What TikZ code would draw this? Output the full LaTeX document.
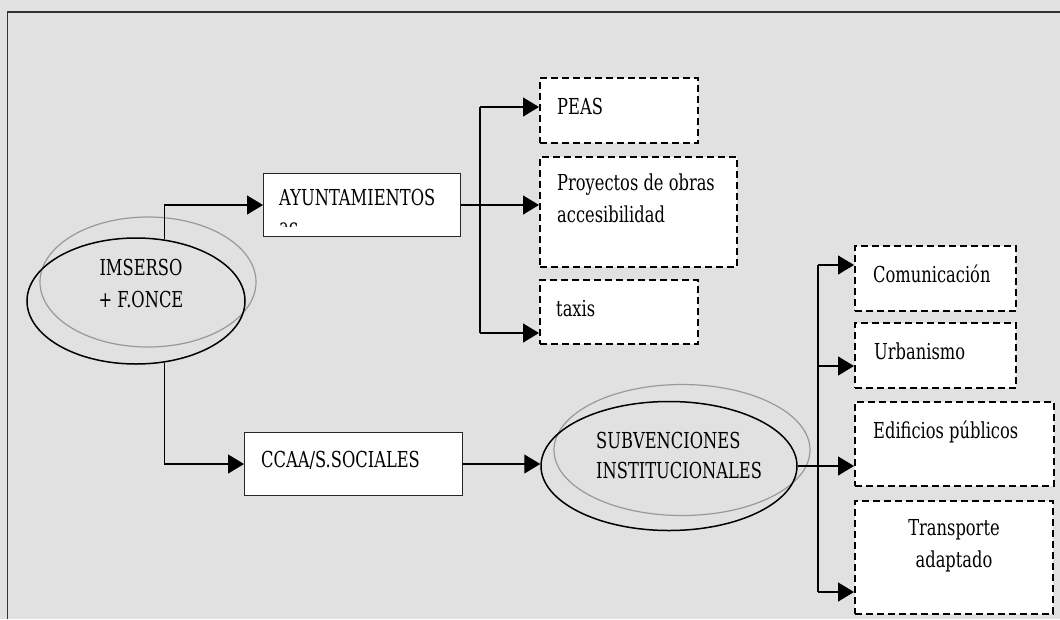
\documentclass[tikz,border=0pt]{standalone}
\usepackage{fontspec}
\setmainfont{DejaVu Serif}[FakeStretch=0.74]
\usetikzlibrary{arrows.meta,shapes.geometric}
\definecolor{bg}{HTML}{E1E1E1}
\definecolor{frame}{HTML}{333333}
\tikzset{
  sbox/.style={rectangle,draw=black!85,fill=white,line width=1pt,inner sep=0pt,anchor=north west},
  dbox/.style={rectangle,draw=black,fill=white,line width=2pt,dash pattern=on 7pt off 4pt,inner sep=0pt,anchor=north west},
  lbl/.style={inner sep=0pt,font=\fontsize{22}{32}\selectfont},
  blk/.style={ellipse,draw=black,line width=1.5pt,inner sep=0pt},
  gry/.style={ellipse,draw=black!40,line width=1.2pt,inner sep=0pt},
  line/.style={draw=black,line width=1.3pt},
  arr/.style={line,-{Triangle[length=16pt,width=19pt]}}
}
\begin{document}
\begin{tikzpicture}[x=1pt,y=-1pt]
\useasboundingbox (0,0) rectangle (1060,619);
\fill[bg] (0,0) rectangle (1060,619);
\draw[frame,line width=1.6pt] (7.5,619) -- (7.5,12) -- (1060,12);

% IMSERSO
\node[gry,minimum width=216pt,minimum height=130pt] (imsg) at (148,282) {};
\node[blk,minimum width=218pt,minimum height=126pt] (imserso) at (136,301) {};
\node[lbl,align=center,anchor=north] (imst) at (141,259) {IMSERSO\\+ F.ONCE};

% AYUNTAMIENTOS
\node[sbox,minimum width=197pt,minimum height=63pt] (ayunt) at (263,173) {};
\node[lbl,anchor=base west] (ayt) at (279,205) {AYUNTAMIENTOS};
\begin{scope}
  \clip (264,174) rectangle (459,226);
  \node[lbl,anchor=base west] (ayac) at (279,234) {ac};
\end{scope}

% CCAA
\node[sbox,minimum width=218pt,minimum height=63pt] (ccaa) at (244,432) {};
\node[lbl,anchor=base west] (ccaat) at (261,467) {CCAA/S.SOCIALES};

% first column of dashed boxes
\node[dbox,minimum width=158pt,minimum height=65pt] (peas) at (539,77) {};
\node[lbl,anchor=base west] (peast) at (557,114) {PEAS};
\node[dbox,minimum width=197pt,minimum height=110pt] (proy) at (539,156) {};
\node[lbl,align=left,anchor=north west] (proyt) at (557,173.3) {Proyectos de obras\\accesibilidad};
\node[dbox,minimum width=158pt,minimum height=64pt] (taxis) at (539,279) {};
\node[lbl,anchor=base west] (taxist) at (556,316) {taxis};

% SUBVENCIONES
\node[gry,minimum width=256pt,minimum height=131pt] (subvg) at (682,450) {};
\node[blk,minimum width=256pt,minimum height=129pt] (subv) at (669,466) {};
\node[lbl,align=left,anchor=north west] (subvt) at (596,432) {SUBVENCIONES\\[-2pt]INSTITUCIONALES};

% second column of dashed boxes
\node[dbox,minimum width=161pt,minimum height=65pt] (comu) at (854,245) {};
\node[lbl,anchor=base west] (comut) at (873,282) {Comunicación};
\node[dbox,minimum width=161pt,minimum height=65pt] (urb) at (854,322) {};
\node[lbl,anchor=base west] (urbt) at (874,359) {Urbanismo};
\node[dbox,minimum width=199pt,minimum height=84pt] (edif) at (854,401) {};
\node[lbl,anchor=base west] (edift) at (873,438) {Edificios públicos};
\node[dbox,minimum width=198pt,minimum height=113pt] (trans) at (854,500) {};
\node[lbl,align=center,anchor=north] (transt) at (954,519) {Transporte\\adaptado};

% connectors
\draw[arr] (imserso.65) |- (ayunt.west);
\draw[arr] (imserso.-65) |- (ccaa.west);
\draw[arr] (ccaa.east) -- (ccaa.east -| subv.west);

\coordinate (j1) at (480,107);
\coordinate (j3) at (480,333);
\draw[line] (j1) -- (j3);
\draw[arr] (j1) -- (j1 -| peas.west);
\draw[arr] (ayunt.east) -- (ayunt.east -| proy.west);
\draw[arr] (j3) -- (j3 -| taxis.west);

\coordinate (k1) at (818,265);
\coordinate (k2) at (818,366);
\coordinate (k4) at (818,592);
\draw[line] (k1) -- (k4);
\draw[arr] (k1) -- (k1 -| comu.west);
\draw[arr] (k2) -- (k2 -| urb.west);
\draw[arr] (subv.east) -- (subv.east -| edif.west);
\draw[arr] (k4) -- (k4 -| trans.west);
\end{tikzpicture}
\end{document}
